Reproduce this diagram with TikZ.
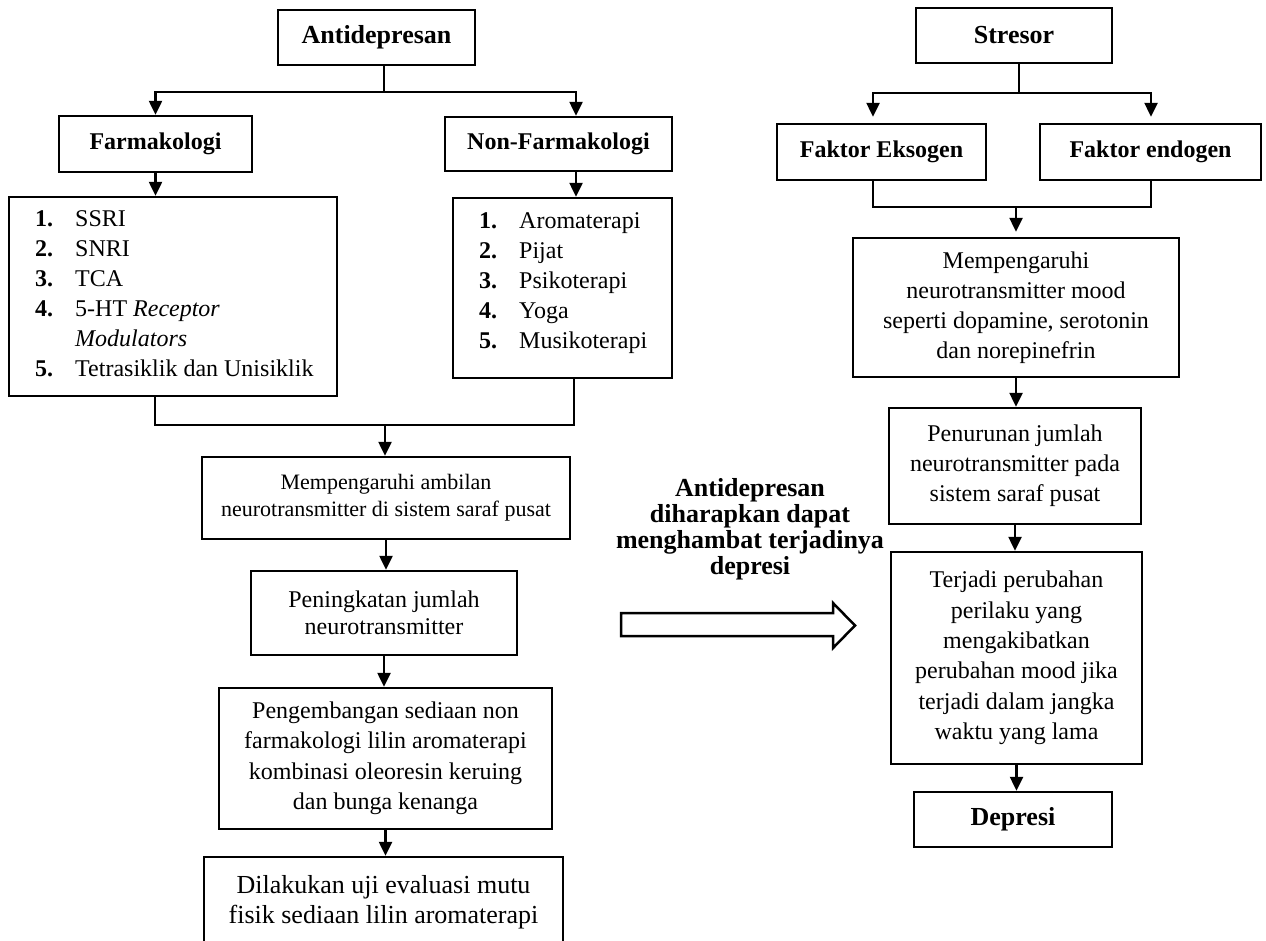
\documentclass[tikz,border=0pt]{standalone}
\usepackage{fontspec}
\setmainfont{Liberation Serif}
\usetikzlibrary{arrows.meta}
\begin{document}
\begin{tikzpicture}[x=1pt,y=-1pt,
  box/.style={draw, line width=2.5pt, inner sep=0pt, align=center},
  hb/.style={font=\fontsize{26}{30}\selectfont\bfseries},
  hs/.style={font=\fontsize{24}{30}\selectfont\bfseries},
  tx/.style={font=\fontsize{24}{30}\selectfont},
  conn/.style={line width=2.5pt},
  arr/.style={line width=2.5pt, -{Triangle[width=13pt,length=14pt]}},
  ]
\useasboundingbox (0,0) rectangle (1266,940);
\clip (0,0) rectangle (1266,940);

% ---------- left column ----------
\node[box, hb, minimum width=197pt, minimum height=55pt] (anti) at (376.5,37.5) {Antidepresan};
\node[box, hs, minimum width=193pt, minimum height=56pt] (farm) at (155.5,144) {Farmakologi};
\node[box, hs, minimum width=227pt, minimum height=54pt] (nonfarm) at (558.5,144) {Non-Farmakologi};

\node[box, minimum width=328pt, minimum height=199pt] (list1) at (173,296.5) {};
\node[anchor=west, inner sep=0pt, tx] (list1t) at (35,295) {%
  \begin{tabular}{@{}p{40pt}@{}l@{}}
  \textbf{1.} & SSRI\\
  \textbf{2.} & SNRI\\
  \textbf{3.} & TCA\\
  \textbf{4.} & 5-HT \textit{Receptor}\\
              & \textit{Modulators}\\
  \textbf{5.} & Tetrasiklik dan Unisiklik
  \end{tabular}};

\node[box, minimum width=219pt, minimum height=180pt] (list2) at (562.5,288) {};
\node[anchor=west, inner sep=0pt, tx] (list2t) at (479,282.5) {%
  \begin{tabular}{@{}p{40pt}@{}l@{}}
  \textbf{1.} & Aromaterapi\\
  \textbf{2.} & Pijat\\
  \textbf{3.} & Psikoterapi\\
  \textbf{4.} & Yoga\\
  \textbf{5.} & Musikoterapi
  \end{tabular}};

\node[box, font=\fontsize{22}{27}\selectfont, minimum width=368pt, minimum height=82pt] (ambil) at (386,498)
  {Mempengaruhi ambilan\\neurotransmitter di sistem saraf pusat};
\node[box, font=\fontsize{24}{27}\selectfont, minimum width=266pt, minimum height=84pt] (ening) at (384,613)
  {Peningkatan jumlah\\neurotransmitter};
\node[box, font=\fontsize{24}{30.5}\selectfont, minimum width=333pt, minimum height=141pt] (kemb) at (385.5,758.5)
  {Pengembangan sediaan non\\farmakologi lilin aromaterapi\\kombinasi oleoresin keruing\\dan bunga kenanga};
\node[box, font=\fontsize{26}{30}\selectfont, minimum width=359pt, minimum height=90pt] (dila) at (383.5,902)
  {Dilakukan uji evaluasi mutu\\fisik sediaan lilin aromaterapi};

% ---------- middle ----------
\node[inner sep=0pt, align=center, font=\fontsize{26}{26}\selectfont\bfseries] (mid) at (750,529)
  {Antidepresan\\diharapkan dapat\\menghambat terjadinya\\depresi};
\draw[line width=2.5pt, line join=miter] (621,613) -- (833,613) -- (833,603) -- (855,625.5)
  -- (833,648) -- (833,636) -- (621,636) -- cycle;

% ---------- right column ----------
\node[box, hb, minimum width=196pt, minimum height=55pt] (stres) at (1014,35.5) {Stresor};
\node[box, hs, minimum width=209pt, minimum height=56pt] (ekso) at (881.5,152) {Faktor Eksogen};
\node[box, hs, minimum width=221pt, minimum height=56pt] (endo) at (1150.5,152) {Faktor endogen};
\node[box, tx, minimum width=326pt, minimum height=139pt] (mood) at (1016,307.5)
  {Mempengaruhi\\neurotransmitter mood\\seperti dopamine, serotonin\\dan norepinefrin};
\node[box, tx, minimum width=252pt, minimum height=116pt] (turun) at (1015,466)
  {Penurunan jumlah\\neurotransmitter pada\\sistem saraf pusat};
\node[box, font=\fontsize{24}{30.4}\selectfont, minimum width=251pt, minimum height=212pt] (terjadi) at (1016.5,658)
  {Terjadi perubahan\\perilaku yang\\mengakibatkan\\perubahan mood jika\\terjadi dalam jangka\\waktu yang lama};
\node[box, hb, minimum width=198pt, minimum height=55pt] (depresi) at (1013,819.5) {Depresi};

% ---------- connectors ----------
\coordinate (j1) at (384,92);
\coordinate (j2) at (385,425);
\coordinate (j3) at (1019,93);
\coordinate (j4) at (1016,207);

\draw[conn] ([xshift=7.5pt]anti.south) -- (j1);
\draw[arr] (j1) -| (farm.north);
\draw[arr] (j1) -| ([xshift=17.5pt]nonfarm.north);
\draw[arr] (farm.south) -- (farm.south |- list1.north);
\draw[arr] ([xshift=17.5pt]nonfarm.south) -- ([xshift=17.5pt]nonfarm.south |- list2.north);
\draw[conn] ([xshift=-18pt]list1.south) |- (j2) -| ([xshift=11.5pt]list2.south);
\draw[arr] (j2) -- (j2 |- ambil.north);
\draw[arr] (ambil.south) -- (ambil.south |- ening.north);
\draw[arr] (ening.south) -- (ening.south |- kemb.north);
\draw[arr] (kemb.south) -- (kemb.south |- dila.north);

\draw[conn] ([xshift=5pt]stres.south) -- (j3);
\draw[arr, shorten >=6pt] (j3) -| ([xshift=-8.5pt]ekso.north);
\draw[arr, shorten >=6pt] (j3) -| ([xshift=0.5pt]endo.north);
\draw[conn] ([xshift=-8.5pt]ekso.south) |- (j4) -| ([xshift=0.5pt]endo.south);
\draw[arr, shorten >=5pt] (j4) -- (j4 |- mood.north);
\draw[arr] (mood.south) -- (mood.south |- turun.north);
\draw[arr] (turun.south) -- (turun.south |- terjadi.north);
\draw[arr] (terjadi.south) -- (terjadi.south |- depresi.north);
\end{tikzpicture}
\end{document}
